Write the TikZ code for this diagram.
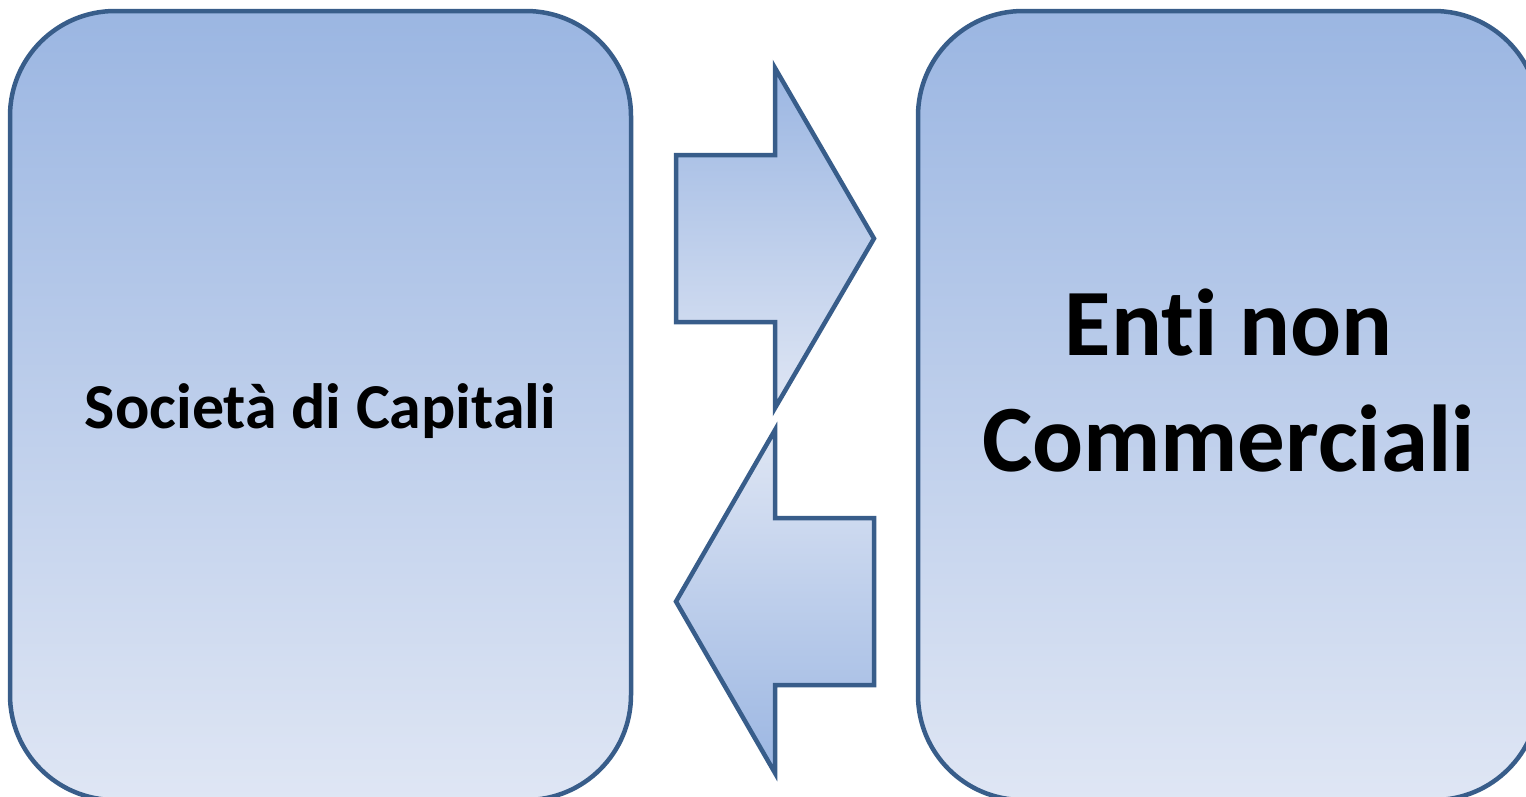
\documentclass[tikz,border=0pt]{standalone}
\usepackage{fontspec}
\setmainfont{Carlito}[Ligatures=NoCommon]
\usetikzlibrary{positioning}
\definecolor{boxline}{RGB}{56,93,138}
\definecolor{shadedark}{RGB}{155,182,226}
\definecolor{shadelight}{RGB}{223,230,244}
\tikzset{
  entity/.style={draw=boxline, line width=4.5pt, rounded corners=105pt,
    top color=shadedark, bottom color=shadelight, outer sep=0pt,
    minimum width=621pt, minimum height=789pt, inner sep=0pt, align=center},
  blockarrow/.style={draw=boxline, line width=4.5pt, line join=miter}
}
\begin{document}
\begin{tikzpicture}[x=1pt,y=-1pt]
    \useasboundingbox (0,0) rectangle (1526,796);
    \clip (0,0) rectangle (1526,796);

    \node[entity, font=\bfseries\fontsize{64}{78}\selectfont, text height=50pt, text depth=5pt] (soc) at (320.5,405.5) {Società di Capitali};
    \node[entity, right=287pt of soc, font=\bfseries\fontsize{95}{116}\selectfont, text depth=50pt] (enti) {Enti non\\Commerciali};

    % the two block arrows between the boxes
    \draw[blockarrow, top color=shadedark, bottom color=shadelight]
        (676,155) -- (775,155) -- (775,68) -- (874,238.5) -- (775,408) -- (775,322) -- (676,322) -- cycle;
    \draw[blockarrow, top color=shadelight, bottom color=shadedark]
        (874,518) -- (775,518) -- (775,430) -- (676,601.5) -- (775,773) -- (775,685) -- (874,685) -- cycle;
\end{tikzpicture}
\end{document}
